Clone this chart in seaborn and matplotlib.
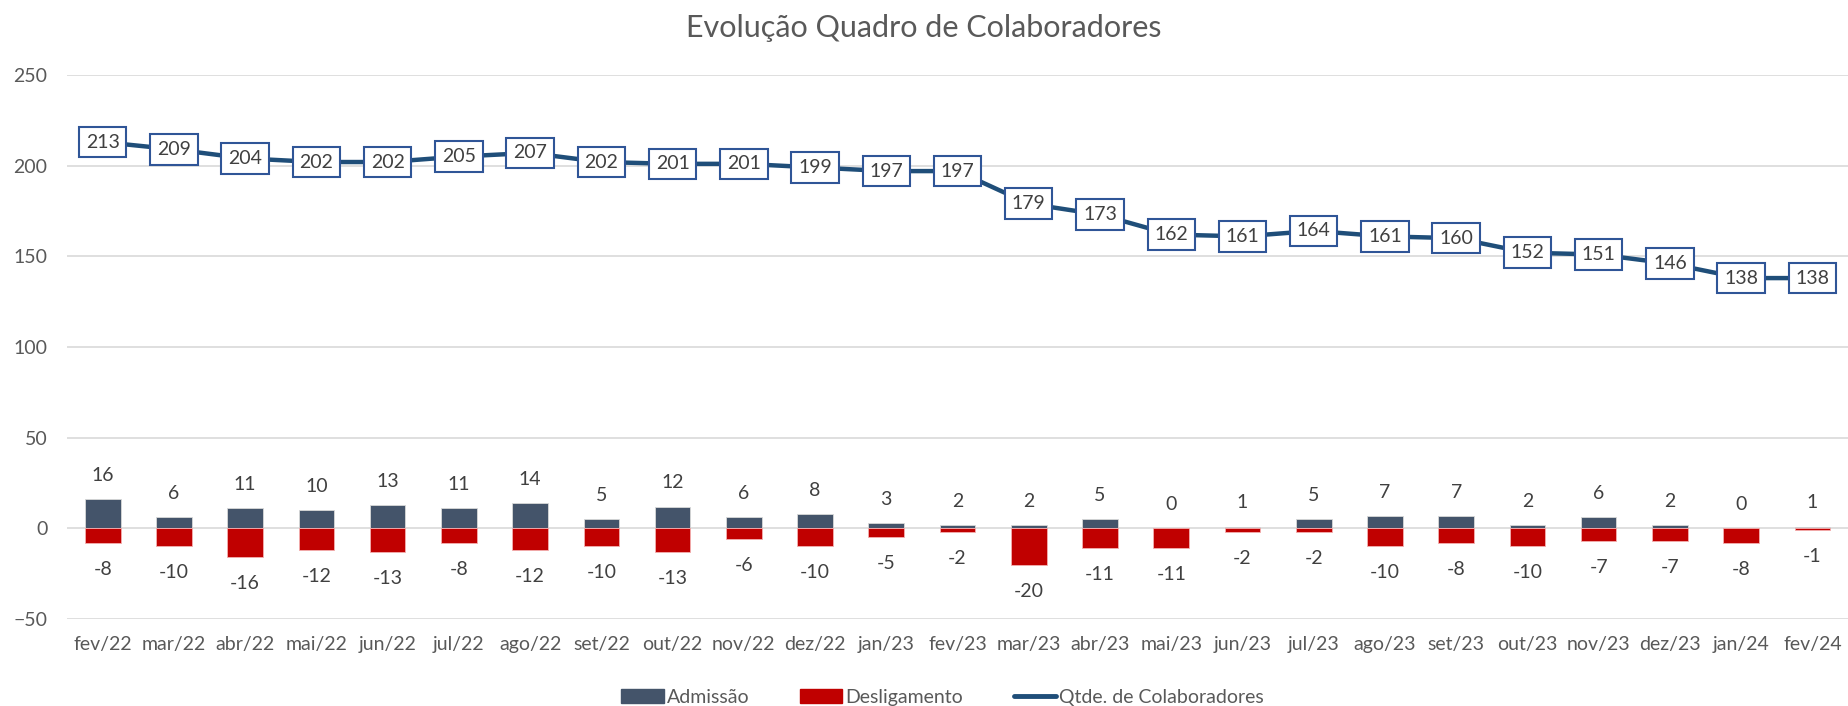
import matplotlib
matplotlib.use("Agg")
import matplotlib.pyplot as plt
import seaborn as sns
import pandas as pd
from matplotlib.patches import Patch
from matplotlib.lines import Line2D

meses = ["fev/22", "mar/22", "abr/22", "mai/22", "jun/22", "jul/22", "ago/22", "set/22",
         "out/22", "nov/22", "dez/22", "jan/23", "fev/23", "mar/23", "abr/23", "mai/23",
         "jun/23", "jul/23", "ago/23", "set/23", "out/23", "nov/23", "dez/23", "jan/24", "fev/24"]
admissao = [16, 6, 11, 10, 13, 11, 14, 5, 12, 6, 8, 3, 2, 2, 5, 0, 1, 5, 7, 7, 2, 6, 2, 0, 1]
desligamento = [-8, -10, -16, -12, -13, -8, -12, -10, -13, -6, -10, -5, -2, -20, -11, -11,
                -2, -2, -10, -8, -10, -7, -7, -8, -1]
qtde = [213, 209, 204, 202, 202, 205, 207, 202, 201, 201, 199, 197, 197, 179, 173, 162,
        161, 164, 161, 160, 152, 151, 146, 138, 138]

df = pd.DataFrame({"mes": meses, "adm": admissao, "desl": desligamento, "qtde": qtde})
df["pos"] = range(len(df))

sns.set_style("white")
plt.rcParams["font.family"] = ["Lato", "DejaVu Sans"]
txt = "#404040"
c_adm = "#44546A"
c_desl = "#C00000"
c_line = "#1F4E79"

fig = plt.figure(figsize=(18.48, 7.06), dpi=100)
ax = fig.add_axes([0.0363, 0.1232, 0.9637, 0.7706])

sns.barplot(data=df, x="mes", y="adm", color=c_adm, width=0.5, ax=ax,
            edgecolor="#D9D9D9", linewidth=0.6, saturation=1)
sns.barplot(data=df, x="mes", y="desl", color=c_desl, width=0.5, ax=ax,
            edgecolor="#F4B0B0", linewidth=0.6, saturation=1)
sns.lineplot(data=df, x="pos", y="qtde", color=c_line, linewidth=3.2, ax=ax, zorder=3)

for i, row in df.iterrows():
    ax.annotate(str(row["adm"]), (i, row["adm"]), xytext=(0, 17), textcoords="offset points",
                ha="center", va="center", fontsize=14, color=txt)
    ax.annotate(str(row["desl"]), (i, row["desl"]), xytext=(0, -19), textcoords="offset points",
                ha="center", va="center", fontsize=14, color=txt)
    ax.annotate(str(row["qtde"]), (i, row["qtde"]), ha="center", va="center",
                fontsize=14, color=txt, zorder=4,
                bbox=dict(boxstyle="square,pad=0.35", fc="white", ec="#2F5597", lw=1.5))

ax.set_xlim(-0.5, len(df) - 0.5)
ax.set_ylim(-50, 250)
ax.set_yticks(range(-50, 251, 50))
ax.grid(axis="y", color="#D9D9D9", linewidth=1.2)
ax.set_axisbelow(True)
for s in ax.spines.values():
    s.set_visible(False)
ax.set_xlabel("")
ax.set_ylabel("")
ax.tick_params(axis="x", length=0, pad=12, labelsize=14, labelcolor="#595959")
ax.tick_params(axis="y", length=0, pad=14, labelsize=14, labelcolor="#595959")

fig.suptitle("Evolução Quadro de Colaboradores", y=0.98, fontsize=22, color="#595959")

handles = [Patch(color=c_adm, label="Admissão"),
           Patch(color=c_desl, label="Desligamento"),
           Line2D([0], [0], color=c_line, lw=3.5, label="Qtde. de Colaboradores")]
fig.legend(handles=handles, loc="center", bbox_to_anchor=(0.51, 0.012), ncol=3, frameon=False,
           fontsize=14, labelcolor="#595959", handlelength=2.2, handletextpad=0.15,
           columnspacing=2.6)

fig.savefig("out.png", dpi=100)
